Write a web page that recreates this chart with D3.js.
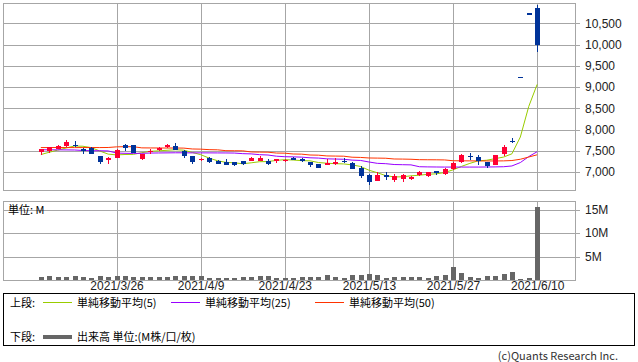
<!DOCTYPE html>
<html lang="ja">
<head>
  <meta charset="UTF-8">
  <title>株価チャート 日足</title>
  <style type="text/css">
    body { margin: 0; background: #fff; }
    svg { display: block; font-family: "Noto Sans CJK JP", "Noto Sans", sans-serif; }
    .grid line { stroke: #a6a6a6; shape-rendering: crispEdges; }
    .grid path { display: none; }
    .lab path { display: none; }
    .lab line { stroke: #a6a6a6; shape-rendering: crispEdges; }
    .lab text { fill: #222; font-size: 12px; }
    .frame { fill: none; stroke: #a6a6a6; shape-rendering: crispEdges; }
    .ma { fill: none; stroke-width: 1; }
  </style>
</head>
<body>
  <svg width="638" height="362"></svg>
  <script src="https://d3js.org/d3.v7.min.js"></script>
  <script>
    // 1. データ（チャートから読み取った値）
    var dates = ["2021/3/15","2021/3/16","2021/3/17","2021/3/18","2021/3/19","2021/3/22","2021/3/23","2021/3/24","2021/3/25","2021/3/26",
      "2021/3/29","2021/3/30","2021/3/31","2021/4/1","2021/4/2","2021/4/5","2021/4/6","2021/4/7","2021/4/8","2021/4/9",
      "2021/4/12","2021/4/13","2021/4/14","2021/4/15","2021/4/16","2021/4/19","2021/4/20","2021/4/21","2021/4/22","2021/4/23",
      "2021/4/26","2021/4/27","2021/4/28","2021/4/30","2021/5/6","2021/5/7","2021/5/10","2021/5/11","2021/5/12","2021/5/13",
      "2021/5/14","2021/5/17","2021/5/18","2021/5/19","2021/5/20","2021/5/21","2021/5/24","2021/5/25","2021/5/26","2021/5/27",
      "2021/5/28","2021/5/31","2021/6/1","2021/6/2","2021/6/3","2021/6/4","2021/6/7","2021/6/8","2021/6/9","2021/6/10"];

    var open = [7460,7490,7540,7620,7640,7530,7575,7380,7280,7340,
      7635,7635,7310,7480,7525,7595,7615,7505,7365,7275,
      7330,7270,7225,7225,7260,7265,7260,7250,7285,7255,
      7340,7310,7225,7195,7170,7180,7265,7210,7085,6935,
      6795,6930,6810,6830,6830,6930,6895,7020,6945,7070,
      7235,7380,7355,7225,7175,7425,7740,9240,10740,10860];
    var high = [7545,7600,7640,7760,7720,7560,7590,7385,7360,7540,
      7660,7640,7425,7540,7600,7665,7690,7510,7370,7330,
      7360,7275,7295,7230,7265,7345,7385,7305,7310,7310,
      7350,7330,7230,7200,7300,7320,7330,7230,7130,6960,
      6990,7000,6950,6960,6895,7030,7000,7025,7100,7225,
      7420,7440,7410,7230,7405,7630,7800,9240,10740,10930];
    var low = [7400,7450,7530,7590,7600,7420,7425,7200,7200,7330,
      7500,7440,7290,7430,7500,7555,7510,7330,7200,7265,
      7220,7195,7170,7150,7175,7250,7255,7160,7205,7240,
      7285,7240,7110,7085,7160,7170,7220,7060,6855,6690,
      6780,6810,6755,6775,6800,6900,6890,6940,6935,7050,
      7215,7290,7170,7090,7170,7380,7680,9240,10740,9830];
    var close = [7540,7590,7620,7700,7610,7510,7430,7225,7330,7515,
      7560,7445,7420,7495,7570,7625,7515,7365,7225,7310,
      7225,7200,7175,7170,7200,7335,7330,7195,7305,7290,
      7290,7255,7175,7105,7210,7235,7225,7065,6915,6775,
      6935,6885,6910,6930,6890,7005,6995,6965,7075,7215,
      7405,7355,7265,7145,7400,7590,7740,9240,10740,10000];

    // 出来高（M株）
    var volume = [0.57,0.85,0.57,0.71,0.85,0.64,0.50,0.78,0.71,0.85,
      0.85,0.64,0.57,0.57,0.57,0.64,0.78,0.78,0.78,0.78,
      0.50,0.50,0.50,0.50,0.64,0.64,0.78,0.85,0.50,0.43,
      0.50,0.65,0.65,0.65,1.09,0.65,0.43,1.09,1.09,1.30,
      1.09,0.43,0.65,0.65,0.65,0.65,0.43,0.87,1.09,2.83,
      1.52,0.65,0.43,0.87,0.87,1.30,1.74,0.22,0.43,15.5];

    // 単純移動平均
    var ma5 = [7410,7465,7515,7565,7612,7606,7574,7495,7421,7402,
      7412,7415,7454,7487,7498,7511,7525,7514,7460,7408,
      7328,7265,7227,7216,7194,7216,7242,7246,7273,7291,
      7282,7267,7263,7223,7207,7196,7190,7168,7130,7043,
      6983,6915,6884,6887,6910,6924,6946,6957,6986,7051,
      7131,7203,7263,7277,7314,7351,7428,7823,8542,9062];
    var ma25 = [7524,7522,7522,7520,7518,7506,7502,7500,7496,7446,
      7440,7438,7440,7446,7448,7450,7452,7452,7450,7450,
      7450,7449,7448,7446,7432,7426,7408,7400,7372,7360,
      7356,7350,7334,7328,7310,7305,7300,7280,7272,7236,
      7204,7196,7176,7172,7168,7124,7120,7118,7116,7116,
      7116,7116,7116,7118,7120,7124,7142,7222,7362,7478];
    var ma50 = [7575,7575,7576,7575,7574,7575,7576,7575,7577,7592,
      7596,7595,7568,7566,7565,7564,7565,7562,7542,7538,
      7526,7522,7502,7500,7498,7472,7468,7466,7446,7443,
      7424,7420,7400,7396,7378,7375,7372,7348,7343,7330,
      7327,7324,7306,7304,7300,7290,7288,7287,7284,7265,
      7263,7262,7261,7260,7260,7262,7270,7300,7352,7405];

    var priceTicks = [7000, 7500, 8000, 8500, 9000, 9500, 10000, 10500];
    var volumeTicks = [5, 10, 15];
    var dateTicks = ["2021/3/26", "2021/4/9", "2021/4/23", "2021/5/13", "2021/5/27", "2021/6/10"];

    var maSeries = [
      { name: "単純移動平均(5)", values: ma5, color: "#99cc00" },
      { name: "単純移動平均(25)", values: ma25, color: "#9900ff" },
      { name: "単純移動平均(50)", values: ma50, color: "#ff3300" }
    ];

    // 2. スケール
    var svg = d3.select("svg");
    var left = 3, right = 575;
    var x = d3.scaleLinear().domain([-4.5, dates.length + 3.5]).range([left, right]);
    var y = d3.scaleLinear().domain([7000, 10500]).range([172, 23.3]);
    var yv = d3.scaleLinear().domain([0, 15]).range([280, 209.5]);
    var tickIdx = dateTicks.map(function (d) { return dates.indexOf(d); });
    function cx(i) { return Math.round(x(i)); }

    // 3. グリッド
    svg.append("g").attr("class", "grid")
      .attr("transform", "translate(" + right + ",0)")
      .call(d3.axisRight(y).tickValues(priceTicks).tickSize(-(right - left)).tickFormat(""));
    svg.append("g").attr("class", "grid")
      .attr("transform", "translate(0,190)")
      .call(d3.axisBottom(x).tickValues(tickIdx).tickSize(-187).tickFormat(""));
    svg.append("g").attr("class", "grid")
      .attr("transform", "translate(" + right + ",0)")
      .call(d3.axisRight(yv).tickValues(volumeTicks).tickSize(-(right - left)).tickFormat(""));
    svg.append("g").attr("class", "grid")
      .attr("transform", "translate(0,280)")
      .call(d3.axisBottom(x).tickValues(tickIdx).tickSize(-79).tickFormat(""));

    // 軸ラベル
    svg.append("g").attr("class", "lab")
      .attr("transform", "translate(" + right + ",0)")
      .call(d3.axisRight(y).tickValues(priceTicks).tickSize(5).tickPadding(5).tickFormat(d3.format(",")));
    svg.append("g").attr("class", "lab")
      .attr("transform", "translate(" + right + ",0)")
      .call(d3.axisRight(yv).tickValues(volumeTicks).tickSize(5).tickPadding(5).tickFormat(function (d) { return d + "M"; }));
    svg.append("g").attr("class", "lab")
      .attr("transform", "translate(0,280)")
      .call(d3.axisBottom(x).tickValues(tickIdx).tickSize(0).tickPadding(1.5).tickFormat(function (i) { return dates[i]; }));

    // 4. 移動平均線
    var line = d3.line()
      .x(function (d, i) { return x(i); })
      .y(function (d) { return y(d); });
    svg.selectAll("path.ma")
      .data(maSeries)
      .enter()
      .append("path")
      .attr("class", "ma")
      .attr("stroke", function (d) { return d.color; })
      .attr("d", function (d) { return line(d.values); });

    // 5. ローソク足
    var candles = svg.append("g").selectAll("g")
      .data(dates.map(function (d, i) { return i; }))
      .enter()
      .append("g")
      .attr("shape-rendering", "crispEdges");
    function col(i) { return close[i] > open[i] ? "#ff0033" : "#003399"; }
    candles.append("line")
      .attr("x1", function (i) { return cx(i) + 0.5; })
      .attr("x2", function (i) { return cx(i) + 0.5; })
      .attr("y1", function (i) { return y(high[i]); })
      .attr("y2", function (i) { return y(low[i]); })
      .attr("stroke", col);
    candles.append("rect")
      .attr("x", function (i) { return cx(i) - 2; })
      .attr("width", 5)
      .attr("y", function (i) { return y(Math.max(open[i], close[i])); })
      .attr("height", function (i) { return Math.max(1.5, Math.abs(y(open[i]) - y(close[i]))); })
      .attr("fill", col);

    // 6. 出来高
    svg.append("g").selectAll("rect")
      .data(volume)
      .enter()
      .append("rect")
      .attr("shape-rendering", "crispEdges")
      .attr("x", function (d, i) { return cx(i) - 2; })
      .attr("width", 5)
      .attr("y", function (d) { return yv(d); })
      .attr("height", function (d) { return yv(0) - yv(d); })
      .attr("fill", "#666");

    // 枠
    svg.append("rect").attr("class", "frame").attr("x", left).attr("y", 3).attr("width", right - left).attr("height", 187);
    svg.append("rect").attr("class", "frame").attr("x", left).attr("y", 201).attr("width", right - left).attr("height", 79);
    svg.append("text").attr("x", 8).attr("y", 210).attr("dy", "0.35em")
      .style("font-size", "11px").text("単位: M");

    // 7. 凡例
    var legend = svg.append("g").style("font-size", "11px");
    legend.append("rect").attr("x", 3.5).attr("y", 293.5).attr("width", 631).attr("height", 52)
      .attr("fill", "none").attr("stroke", "#000");
    legend.append("text").attr("x", 10).attr("y", 303).attr("dy", "0.35em").text("上段:");
    var lx = [43, 171, 315];
    maSeries.forEach(function (s, k) {
      legend.append("line").attr("x1", lx[k]).attr("x2", lx[k] + 29).attr("y1", 302.5).attr("y2", 302.5)
        .attr("stroke", s.color);
      legend.append("text").attr("x", lx[k] + 34).attr("y", 303).attr("dy", "0.35em").text(s.name);
    });
    legend.append("text").attr("x", 10).attr("y", 337).attr("dy", "0.35em").text("下段:");
    legend.append("line").attr("x1", 43).attr("x2", 72).attr("y1", 337).attr("y2", 337)
      .attr("stroke", "#666").attr("stroke-width", 4);
    legend.append("text").attr("x", 77).attr("y", 337).attr("dy", "0.35em").text("出来高 単位:(M株/口/枚)");

    svg.append("text").attr("x", 618).attr("y", 356).attr("dy", "0.35em").attr("text-anchor", "end")
      .style("font-size", "11px").style("fill", "#333").text("(c)Quants Research Inc.");
  </script>
</body>
</html>
